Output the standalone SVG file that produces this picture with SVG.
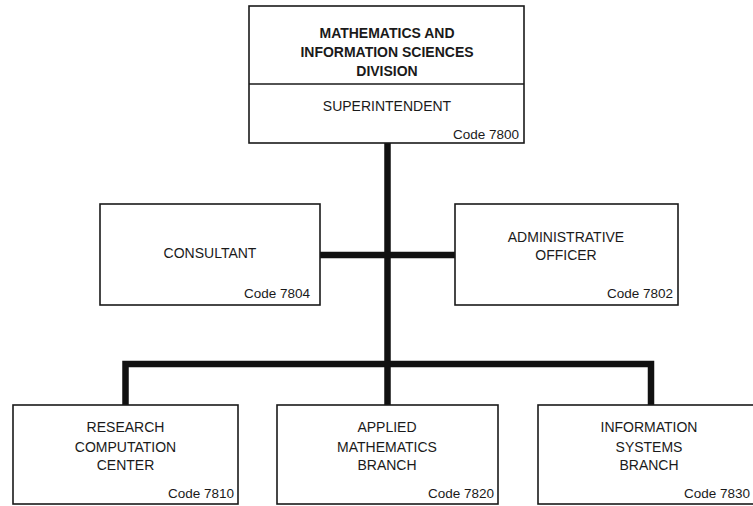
<svg xmlns="http://www.w3.org/2000/svg" width="753" height="506" viewBox="0 0 753 506">
<style>
.box{fill:#fff;stroke:#1a1a1a;stroke-width:1.6}
.t{font-family:"Liberation Sans",Arial,sans-serif;font-size:14px;fill:#1a1a1a;text-anchor:middle}
.b{font-weight:bold}
.c{font-family:"Liberation Sans",Arial,sans-serif;font-size:13.5px;fill:#1a1a1a;text-anchor:end}
.conn{fill:none;stroke:#111;stroke-width:6.5;stroke-linejoin:miter}
</style>
<rect width="753" height="506" fill="#fff"/>
<g id="connectors">
<path class="conn" d="M387.5,143 V364"/>
<path class="conn" d="M320,255 H455"/>
<path class="conn" d="M125.5,405 V364 H651 V405"/>
<path class="conn" d="M387.5,364 V405"/>
</g>
<g id="division">
<rect class="box" x="249" y="6" width="275" height="137"/>
<line x1="249" y1="84" x2="524" y2="84" stroke="#1a1a1a" stroke-width="1.6"/>
<text class="t b" x="387" y="38">MATHEMATICS AND</text>
<text class="t b" x="387" y="57">INFORMATION SCIENCES</text>
<text class="t b" x="387" y="76">DIVISION</text>
<text class="t" x="387" y="111">SUPERINTENDENT</text>
<text class="c" x="519" y="139">Code 7800</text>
</g>
<g id="consultant">
<rect class="box" x="100" y="204" width="220" height="101"/>
<text class="t" x="210" y="258">CONSULTANT</text>
<text class="c" x="310" y="298">Code 7804</text>
</g>
<g id="admin">
<rect class="box" x="455" y="204" width="223" height="101"/>
<text class="t" x="566" y="242">ADMINISTRATIVE</text>
<text class="t" x="566" y="260">OFFICER</text>
<text class="c" x="673" y="298">Code 7802</text>
</g>
<g id="rcc">
<rect class="box" x="13" y="405" width="225" height="99"/>
<text class="t" x="125.5" y="432">RESEARCH</text>
<text class="t" x="125.5" y="452">COMPUTATION</text>
<text class="t" x="125.5" y="470">CENTER</text>
<text class="c" x="234" y="498">Code 7810</text>
</g>
<g id="amb">
<rect class="box" x="277" y="405" width="221" height="99"/>
<text class="t" x="387" y="432">APPLIED</text>
<text class="t" x="387" y="452">MATHEMATICS</text>
<text class="t" x="387" y="470">BRANCH</text>
<text class="c" x="494" y="498">Code 7820</text>
</g>
<g id="isb">
<rect class="box" x="538" y="405" width="225" height="99"/>
<text class="t" x="649" y="432">INFORMATION</text>
<text class="t" x="649" y="452">SYSTEMS</text>
<text class="t" x="649" y="470">BRANCH</text>
<text class="c" x="750" y="498">Code 7830</text>
</g>
</svg>
